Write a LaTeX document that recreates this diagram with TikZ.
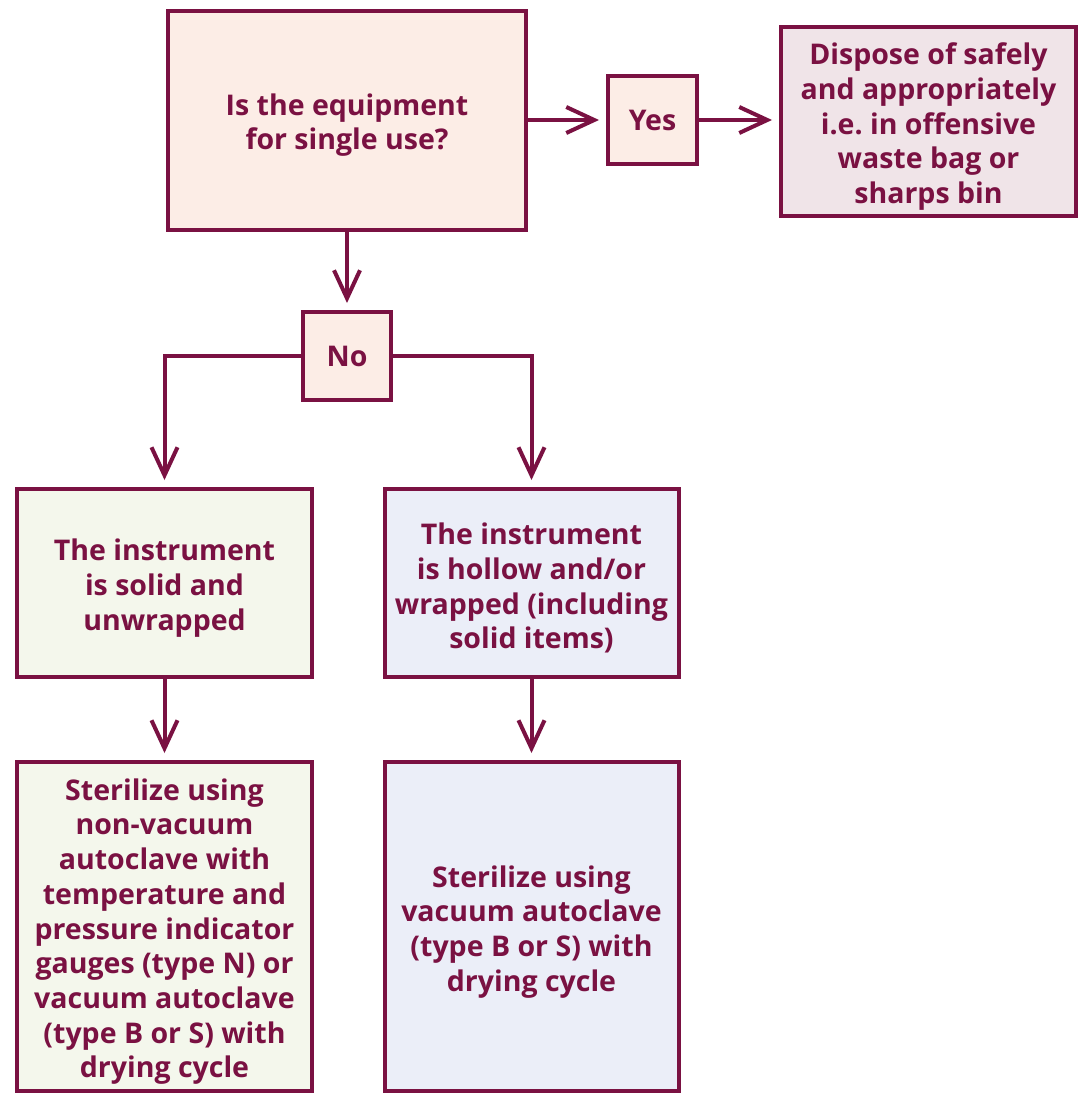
\documentclass[tikz,border=0pt]{standalone}
\usepackage{fontspec}
\setmainfont{Open Sans}
\usetikzlibrary{arrows.meta}
\definecolor{plum}{HTML}{7A1142}
\definecolor{pinkfill}{HTML}{FCEDE6}
\definecolor{mauvefill}{HTML}{F0E4E8}
\definecolor{greenfill}{HTML}{F4F7EC}
\definecolor{bluefill}{HTML}{EBEEF8}
\newcommand{\topstrut}{\rule{0pt}{32pt}}

\begin{document}
\begin{tikzpicture}[x=1pt,y=-1pt,line width=4pt,
    box/.style={draw=plum, inner sep=0pt, align=center, text=plum,
        font=\fontsize{28.5}{34.7}\selectfont\bfseries},
    arr/.style={draw=plum, -{Straight Barb[length=28pt,width=26pt]}, shorten >=7pt}]
    \useasboundingbox (0,0) rectangle (1085,1095);
    % boxes
    \node[box, fill=pinkfill, minimum width=358pt, minimum height=219pt] (single) at (347,120) {\topstrut Is the equipment\\for single use?};
    \node[box, fill=pinkfill, minimum width=89pt, minimum height=88pt] (yes) at (652.5,120) {Yes};
    \node[box, fill=mauvefill, minimum width=295pt, minimum height=189pt] (dispose) at (928.5,121.5) {\topstrut Dispose of safely\\and appropriately\\i.e.\ in offensive\\waste bag or\\sharps bin};
    \node[box, fill=pinkfill, minimum width=88pt, minimum height=88pt] (no) at (347,356) {No};
    \node[box, fill=greenfill, minimum width=295pt, minimum height=188pt] (solid) at (164.5,583) {\topstrut The instrument\\is solid and\\unwrapped};
    \node[box, fill=bluefill, minimum width=294pt, minimum height=188pt] (hollow) at (531.5,583) {\topstrut The instrument\\is hollow and/or\\wrapped (including\\solid items)};
    \node[box, fill=greenfill, minimum width=295pt, minimum height=329pt] (sterL) at (164.5,926.5) {\topstrut Sterilize using\\non-vacuum\\autoclave with\\temperature and\\pressure indicator\\gauges (type N) or\\vacuum autoclave\\(type B or S) with\\drying cycle};
    \node[box, fill=bluefill, minimum width=294pt, minimum height=329pt] (sterR) at (531.5,926.5) {\topstrut Sterilize using\\vacuum autoclave\\(type B or S) with\\drying cycle};
    % connectors
    \draw[arr] (single) -- (yes);
    \draw[arr] (yes.east) -- (yes.east -| dispose.west);
    \draw[arr] (single) -- (no);
    \draw[arr] (no.west) -| (solid.north);
    \draw[arr] (no.east) -| (hollow.north);
    \draw[arr] (solid) -- (sterL);
    \draw[arr] (hollow) -- (sterR);
\end{tikzpicture}
\end{document}
